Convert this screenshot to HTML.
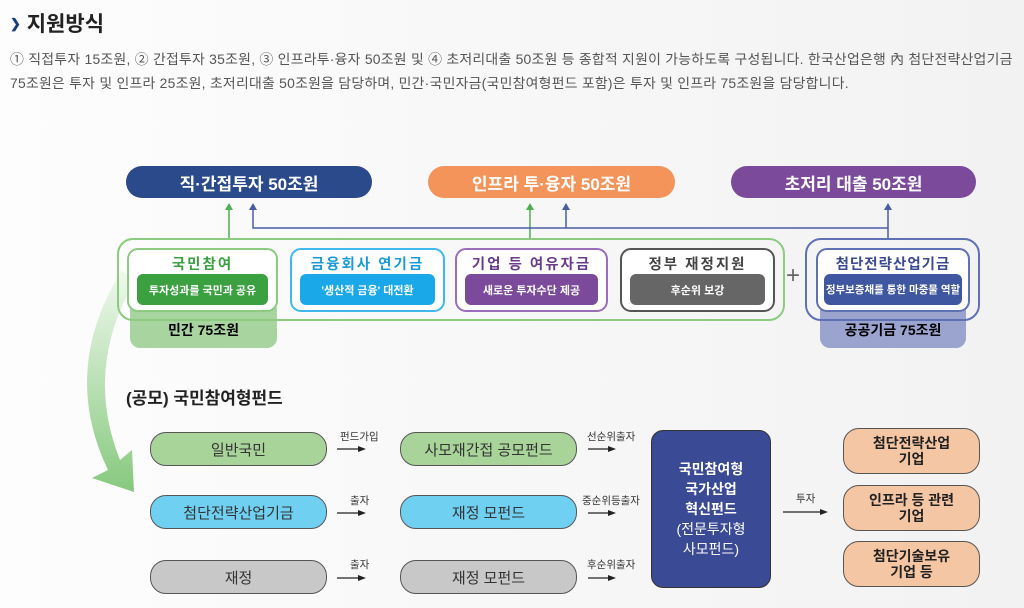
<!DOCTYPE html>
<html><head><meta charset="utf-8"><style>
body{margin:0;width:1024px;height:608px;overflow:hidden;background:linear-gradient(90deg,#fdfdfd,#f2f2f2);font-family:"Liberation Sans","Noto Sans CJK KR",sans-serif;position:relative}
.a{position:absolute;box-sizing:border-box}
.c{display:flex;align-items:center;justify-content:center;text-align:center}
.pill{border-radius:16px;color:#fff;font-weight:bold;font-size:17px}
.ib{background:#fff;border-radius:11px;border:2px solid}
.ib .t{position:absolute;left:0;right:0;top:3px;text-align:center;font-weight:bold;font-size:14.5px;letter-spacing:2px}
.ib .b{position:absolute;left:8px;right:8px;top:24px;height:31px;border-radius:6px;color:#fff;font-size:11px;font-weight:bold;display:flex;align-items:center;justify-content:center}
.rb{border:1.5px solid #555;border-radius:16px;font-size:15px;color:#333}
.lb{font-size:10.5px;color:#333}
</style></head><body>
<div class="a" style="left:10px;top:8px;font-size:21px;font-weight:bold;color:#222"><span style="color:#1a3a80;font-size:13px;position:relative;top:-3px">&#10095;</span> 지원방식</div>
<div class="a" style="left:10px;top:47px;width:1014px;font-size:13.9px;color:#555;line-height:24px;white-space:nowrap;letter-spacing:0.25px">① 직접투자 15조원, ② 간접투자 35조원, ③ 인프라투·융자 50조원 및 ④ 초저리대출 50조원 등 종합적 지원이 가능하도록 구성됩니다. 한국산업은행 內 첨단전략산업기금<br>75조원은 투자 및 인프라 25조원, 초저리대출 50조원을 담당하며, 민간·국민자금(국민참여형펀드 포함)은 투자 및 인프라 75조원을 담당합니다.</div>

<svg class="a" style="left:0;top:0" width="1024" height="608">
<defs><linearGradient id="g" x1="0" y1="0" x2="0" y2="1"><stop offset="0" stop-color="#f0f8ee"/><stop offset="1" stop-color="#86c97e"/></linearGradient></defs>
<path d="M122 270 Q60 370 108 470 L92 478 L134 492 L132 450 L120 460 Q84 370 134 282 Z" fill="url(#g)"/>
<g fill="none" stroke-width="1.5">
<path d="M229 238V208" stroke="#4caf50"/><path d="M530 238V208" stroke="#4caf50"/>
<path d="M253 208V228H888V238M566 228V208M888 228V208" stroke="#4a5ca6"/>
</g>
<path d="M225 210L229 203L233 210Z M526 210L530 203L534 210Z" fill="#4caf50"/>
<path d="M249 210L253 203L257 210Z M562 210L566 203L570 210Z M884 210L888 203L892 210Z" fill="#4a5ca6"/>
<g stroke="#222" stroke-width="1.3"><path d="M337 449H360M337 513H360M337 578H360M588 449H610M588 513H610M588 578H610M783 512H822"/></g>
<path d="M358 446L366 449L358 452Z M358 510L366 513L358 516Z M358 575L366 578L358 581Z M608 446L616 449L608 452Z M608 510L616 513L608 516Z M608 575L616 578L608 581Z M820 509L828 512L820 515Z" fill="#222"/>
</svg>

<div class="a c pill" style="left:126px;top:166px;width:246px;height:32px;background:#2b4a8b">직·간접투자 50조원</div>
<div class="a c pill" style="left:428px;top:166px;width:247px;height:32px;background:#f4945a">인프라 투·융자 50조원</div>
<div class="a c pill" style="left:731px;top:166px;width:245px;height:32px;background:#7b4a9b">초저리 대출 50조원</div>

<div class="a c" style="left:130px;top:300px;width:147px;height:48px;background:#a8d4a0;border-radius:10px;font-weight:bold;font-size:14px;padding-top:12px">민간 75조원</div>
<div class="a c" style="left:820px;top:300px;width:146px;height:48px;background:#9aa4cf;border-radius:10px;font-weight:bold;font-size:14px;padding-top:12px">공공기금 75조원</div>
<div class="a" style="left:117px;top:238px;width:668px;height:83px;border:2px solid #8ccb80;border-radius:16px"></div>
<div class="a" style="left:805px;top:238px;width:175px;height:83px;border:2px solid #6070b5;border-radius:16px"></div>

<div class="a ib" style="left:127px;top:248px;width:151px;height:64px;border-color:#8ccb80"><div class="t" style="color:#3aa040">국민참여</div><div class="b" style="background:#3aa040">투자성과를 국민과 공유</div></div>
<div class="a ib" style="left:290px;top:248px;width:155px;height:64px;border-color:#3fb8ec"><div class="t" style="color:#1a9ad8">금융회사 연기금</div><div class="b" style="background:#1aa8e8">'생산적 금융' 대전환</div></div>
<div class="a ib" style="left:455px;top:248px;width:153px;height:64px;border-color:#9b6dbb"><div class="t" style="color:#6a3a8a">기업 등 여유자금</div><div class="b" style="background:#7b4a9b">새로운 투자수단 제공</div></div>
<div class="a ib" style="left:620px;top:248px;width:155px;height:64px;border-color:#555"><div class="t" style="color:#444">정부 재정지원</div><div class="b" style="background:#666">후순위 보강</div></div>
<div class="a" style="left:786px;top:262px;font-size:24px;color:#666">+</div>
<div class="a ib" style="left:816px;top:248px;width:154px;height:64px;border-color:#6070b5"><div class="t" style="color:#3a4a94;letter-spacing:1px">첨단전략산업기금</div><div class="b" style="background:#3f56a0;font-size:10.5px;left:6px;right:6px">정부보증채를 통한 마중물 역할</div></div>

<div class="a" style="left:126px;top:384px;font-size:17px;font-weight:bold;color:#222">(공모) 국민참여형펀드</div>

<div class="a c rb" style="left:150px;top:432px;width:177px;height:34px;background:#a8d49a">일반국민</div>
<div class="a c rb" style="left:150px;top:495px;width:177px;height:34px;background:#6fd0f2">첨단전략산업기금</div>
<div class="a c rb" style="left:150px;top:560px;width:177px;height:34px;background:#c8c8c8">재정</div>
<div class="a c rb" style="left:400px;top:432px;width:177px;height:34px;background:#a8d49a">사모재간접 공모펀드</div>
<div class="a c rb" style="left:400px;top:495px;width:177px;height:34px;background:#6fd0f2">재정 모펀드</div>
<div class="a c rb" style="left:400px;top:560px;width:177px;height:34px;background:#c8c8c8">재정 모펀드</div>
<div class="a lb" style="left:340px;top:429px">펀드가입</div>
<div class="a lb" style="left:350px;top:493px">출자</div>
<div class="a lb" style="left:350px;top:557px">출자</div>
<div class="a lb" style="left:587px;top:429px">선순위출자</div>
<div class="a lb" style="left:582px;top:493px">중순위등출자</div>
<div class="a lb" style="left:587px;top:557px">후순위출자</div>
<div class="a lb" style="left:796px;top:491px">투자</div>

<div class="a c" style="left:651px;top:430px;width:120px;height:158px;background:#3a4a94;border:1.5px solid #333;border-radius:12px;color:#fff;font-size:14px;line-height:20px"><div><b>국민참여형<br>국가산업<br>혁신펀드</b><br>(전문투자형<br>사모펀드)</div></div>

<div class="a c rb" style="left:843px;top:428px;width:137px;height:46px;background:#f5c6a4;font-weight:bold;font-size:14px;line-height:16px;color:#222">첨단전략산업<br>기업</div>
<div class="a c rb" style="left:843px;top:485px;width:137px;height:46px;background:#f5c6a4;font-weight:bold;font-size:14px;line-height:16px;color:#222">인프라 등 관련<br>기업</div>
<div class="a c rb" style="left:843px;top:541px;width:137px;height:46px;background:#f5c6a4;font-weight:bold;font-size:14px;line-height:16px;color:#222">첨단기술보유<br>기업 등</div>
</body></html>
